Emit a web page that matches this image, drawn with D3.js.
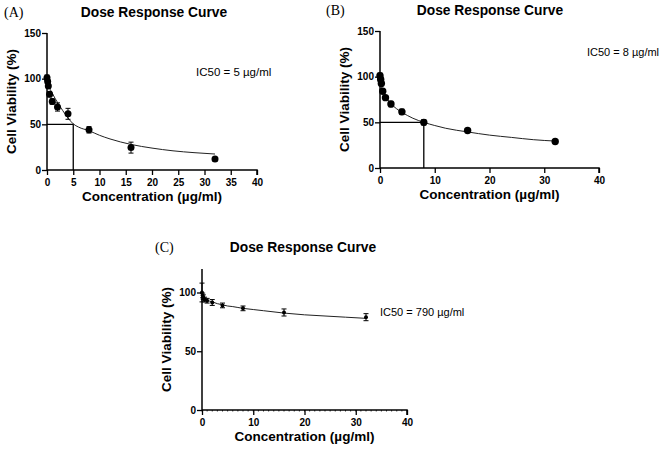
<!DOCTYPE html>
<html>
<head>
<meta charset="utf-8">
<script src="https://cdn.jsdelivr.net/npm/d3@7"></script>
<style>
  body { margin: 0; background: #fff; }
  text { font-family: "Liberation Sans", Arial, sans-serif; }
</style>
</head>
<body>
<svg id="chart" width="669" height="454"></svg>
<script>
// concentrations tested (µg/ml)
const conc = [0, 0.125, 0.25, 0.5, 1, 2, 4, 8, 16, 32]

// mean viability (%) and error for each panel
const viabA = [101, 97, 92, 83, 75, 69, 61.5, 44, 24.5, 12]
const errA = [3, 2, 2, 3, 3, 4.5, 6, 3.5, 6, 2]
const viabB = [101, 97, 92.5, 84, 77, 70, 61.5, 50, 41, 29]
const errB = [3, 2, 2, 2, 2, 3, 3, 3, 2, 2]
const viabC = [100, 97.5, 96, 94, 93, 91.5, 89, 86.5, 83, 79]
const errC = [8, 2, 2, 2, 2, 2.5, 2, 2, 3, 3]

// fitted curve
const fitX = [0, 0.25, 0.5, 1, 2, 3, 4, 5, 6, 8, 10, 12, 16, 20, 24, 28, 32]
const fitA = [100, 95, 90, 84, 74, 65, 57, 50.5, 47, 43, 38, 34, 28, 24, 21, 19, 17.5]
const fitB = [100, 90, 85, 79, 70.5, 65, 61, 57.5, 54.5, 50, 46.5, 43.5, 39.5, 36, 33.5, 31, 29.5]
const fitC = [100, 96, 95, 93.5, 92, 90.5, 89.5, 88.5, 88, 86.5, 85.5, 84.5, 82.5, 81, 80, 79, 78]

const panels = [
  { tag: '(A)', viab: viabA, err: errA, fit: fitA, ic50: 5, ic50Text: 'IC50 = 5 µg/ml',
    x0: 47, x1: 257, y0: 170, y1: 33, yMax: 150, yTicks: [0, 50, 100, 150], xTicks: d3.range(0, 41, 5),
    minor: false, r: 3.5, tagX: 4, titleY: 17, titleX: 154, ic50X: 196, ic50Y: 76, ic50Size: 11.5 },
  { tag: '(B)', viab: viabB, err: errB, fit: fitB, ic50: 8, ic50Text: 'IC50 = 8 µg/ml',
    x0: 380, x1: 599, y0: 168, y1: 31, yMax: 150, yTicks: [0, 50, 100, 150], xTicks: d3.range(0, 41, 10),
    minor: false, r: 3.7, tagX: 326, titleY: 15, titleX: 490, ic50X: 587, ic50Y: 56, ic50Size: 11 },
  { tag: '(C)', viab: viabC, err: errC, fit: fitC, ic50: null, ic50Text: 'IC50 = 790 µg/ml',
    x0: 202, x1: 407, y0: 410, y1: 269, yMax: 120, yTicks: [0, 50, 100], xTicks: d3.range(0, 41, 10),
    minor: true, r: 2, tagX: 155, titleY: 252, titleX: 303, ic50X: 380, ic50Y: 316, ic50Size: 11 }
]

const svg = d3.select('#chart')
svg.append('rect').attr('width', 669).attr('height', 454).attr('fill', '#fff')

panels.forEach(function (p) {
  const x = d3.scaleLinear().domain([0, 40]).range([p.x0, p.x1])
  const y = d3.scaleLinear().domain([0, p.yMax]).range([p.y0, p.y1])
  const g = svg.append('g')

  // panel tag and title
  g.append('text').attr('x', p.tagX).attr('y', p.titleY)
    .style('font-family', '"Liberation Serif", "Times New Roman", serif')
    .style('font-size', '14px').text(p.tag)
  g.append('text').attr('x', p.titleX).attr('y', p.titleY)
    .attr('text-anchor', 'middle').style('font-size', '13.8px').style('font-weight', 'bold')
    .text('Dose Response Curve')

  // IC50 guide lines
  if (p.ic50 !== null) {
    g.append('path')
      .attr('d', 'M' + x(0) + ',' + y(50) + 'H' + x(p.ic50) + 'V' + y(0))
      .attr('fill', 'none').attr('stroke', '#000').attr('stroke-width', 1.3)
  }

  // fitted curve
  g.append('path')
    .datum(fitX.map(function (d, i) { return [d, p.fit[i]] }))
    .attr('d', d3.line().x(function (d) { return x(d[0]) }).y(function (d) { return y(d[1]) }).curve(d3.curveMonotoneX))
    .attr('fill', 'none').attr('stroke', '#222').attr('stroke-width', 1)

  // error bars
  const pts = conc.map(function (c, i) { return { c: c, v: p.viab[i], e: p.err[i] } })
  g.selectAll('.eb').data(pts).enter().append('path')
    .attr('d', function (d) {
      const cx = x(d.c); const t = y(d.v + d.e); const b = y(d.v - d.e)
      return 'M' + (cx - 2.5) + ',' + t + 'H' + (cx + 2.5) + 'M' + cx + ',' + t + 'V' + b + 'M' + (cx - 2.5) + ',' + b + 'H' + (cx + 2.5)
    })
    .attr('stroke', '#000').attr('stroke-width', 1)

  // points
  g.selectAll('.dot').data(pts).enter().append('circle')
    .attr('cx', function (d) { return x(d.c) })
    .attr('cy', function (d) { return y(d.v) })
    .attr('r', p.r).attr('fill', '#000')

  // minor ticks on x (panel C)
  if (p.minor) {
    g.selectAll('.mt').data(d3.range(0, 41, 1)).enter().append('line')
      .attr('x1', function (d) { return x(d) }).attr('x2', function (d) { return x(d) })
      .attr('y1', p.y0).attr('y2', p.y0 + 1.5)
      .attr('stroke', '#000').attr('stroke-width', 0.8)
  }

  // axes
  const xAxis = g.append('g').attr('transform', 'translate(0,' + p.y0 + ')')
    .call(d3.axisBottom(x).tickValues(p.xTicks).tickSize(5).tickPadding(4))
  const yAxis = g.append('g').attr('transform', 'translate(' + p.x0 + ',0)')
    .call(d3.axisLeft(y).tickValues(p.yTicks).tickSize(5).tickPadding(1))
  ;[xAxis, yAxis].forEach(function (a) {
    a.select('.domain').attr('stroke-width', 1.5)
    a.selectAll('.tick line').attr('stroke-width', 1.3)
    a.selectAll('.tick text').style('font-size', '10px').style('font-weight', 'bold')
      .style('font-family', '"Liberation Sans", Arial, sans-serif')
  })
  xAxis.select('.domain').attr('d', 'M' + p.x0 + ',0H' + p.x1 + 'V5')
  yAxis.select('.domain').attr('d', 'M0,' + p.y0 + 'V' + p.y1)

  // axis titles
  g.append('text').attr('x', (p.x0 + p.x1) / 2).attr('y', p.y0 + 31)
    .attr('text-anchor', 'middle').style('font-size', '13.5px').style('font-weight', 'bold')
    .text('Concentration (µg/ml)')
  g.append('text')
    .attr('transform', 'translate(' + (p.x0 - 31) + ',' + ((p.y0 + p.y1) / 2) + ') rotate(-90)')
    .attr('text-anchor', 'middle').style('font-size', '13.5px').style('font-weight', 'bold')
    .text('Cell Viability (%)')

  // IC50 annotation
  g.append('text').attr('x', p.ic50X).attr('y', p.ic50Y)
    .style('font-size', p.ic50Size + 'px').text(p.ic50Text)
})
</script>
</body>
</html>
